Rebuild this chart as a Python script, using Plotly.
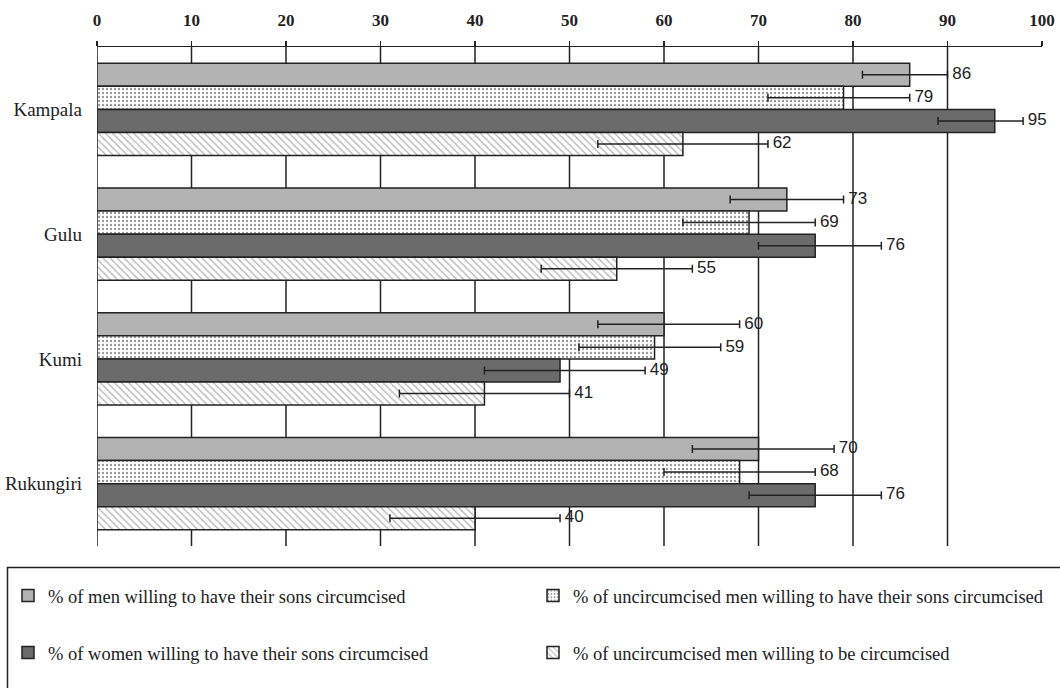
import plotly.graph_objects as go

categories = ["Kampala", "Gulu", "Kumi", "Rukungiri"]

men_sons = [86, 73, 60, 70]
men_sons_lo = [81, 67, 53, 63]
men_sons_hi = [90, 79, 68, 78]

uncirc_sons = [79, 69, 59, 68]
uncirc_sons_lo = [71, 62, 51, 60]
uncirc_sons_hi = [86, 76, 66, 76]

women_sons = [95, 76, 49, 76]
women_sons_lo = [89, 70, 41, 69]
women_sons_hi = [98, 83, 58, 83]

uncirc_self = [62, 55, 41, 40]
uncirc_self_lo = [53, 47, 32, 31]
uncirc_self_hi = [71, 63, 50, 49]

series_names = [
    "% of men willing to have their sons circumcised",
    "% of uncircumcised men willing to have their sons circumcised",
    "% of women willing to have their sons circumcised",
    "% of uncircumcised men willing to be circumcised",
]
x_ticks = [0, 10, 20, 30, 40, 50, 60, 70, 80, 90, 100]

W, H = 1060, 688
L, R, T, B = 97, 18, 47, 142
PW, PH = W - L - R, H - T - B


def xp(px):
    return (px - L) / PW


def yp(py):
    return (H - B - py) / PH


INK = "#222222"
outline = dict(color=INK, width=1.5)

styles = [
    dict(color="#b3b3b3", line=outline),
    dict(color="white", line=outline,
         pattern=dict(shape=".", fgcolor="#333333", bgcolor="white", size=4, solidity=0.28)),
    dict(color="#6b6b6b", line=outline),
    dict(color="white", line=outline,
         pattern=dict(shape="\\", fgcolor="#666666", bgcolor="white", size=5, solidity=0.25)),
]
data = [
    (men_sons, men_sons_lo, men_sons_hi),
    (uncirc_sons, uncirc_sons_lo, uncirc_sons_hi),
    (women_sons, women_sons_lo, women_sons_hi),
    (uncirc_self, uncirc_self_lo, uncirc_self_hi),
]
legend_ids = ["legend", "legend2", "legend3", "legend4"]
legend_pos = [(8, 596), (533, 596), (8, 653), (533, 653)]

fig = go.Figure()
for i, ((vals, lo, hi), st, name) in enumerate(zip(data, styles, series_names)):
    fig.add_trace(go.Bar(
        y=categories, x=vals, orientation="h", name=name, marker=st,
        legend=legend_ids[i],
        error_x=dict(type="data", symmetric=False,
                     array=[h - v for h, v in zip(hi, vals)],
                     arrayminus=[v - l for v, l in zip(vals, lo)],
                     color=INK, thickness=1.5, width=4),
        hoverinfo="skip",
    ))
for i, (vals, lo, hi) in enumerate(data):
    fig.add_trace(go.Scatter(
        y=categories, x=hi, orientation="h", mode="text",
        text=[" " + str(v) for v in vals], textposition="middle right",
        textfont=dict(family="Liberation Sans", size=17, color=INK),
        showlegend=False, hoverinfo="skip", cliponaxis=False,
    ))

shapes = [dict(type="line", xref="x", yref="paper", x0=v, x1=v, y0=0, y1=1,
               layer="below", line=dict(color=INK, width=1.5)) for v in x_ticks[:-1]]
shapes.append(dict(type="rect", xref="paper", yref="paper",
                   x0=xp(7.5), x1=xp(1066), y0=yp(567.5), y1=yp(700),
                   line=dict(color=INK, width=1.5), fillcolor="rgba(0,0,0,0)"))

legend_font = dict(family="Liberation Serif", size=18.5, color=INK)
layout_legends = {}
for lid, (lx, ly) in zip(legend_ids, legend_pos):
    layout_legends[lid] = dict(orientation="h", xref="container", yref="container",
                               x=lx / W, xanchor="left", y=1 - ly / H,
                               yanchor="middle", font=legend_font,
                               bgcolor="rgba(0,0,0,0)", borderwidth=0)

fig.update_layout(
    width=W, height=H,
    margin=dict(l=L, r=R, t=T, b=B, autoexpand=False),
    plot_bgcolor="white", paper_bgcolor="white",
    barmode="group", bargap=0.2625, bargroupgap=0,
    scattermode="group", scattergap=0.2625,
    shapes=shapes,
    xaxis=dict(side="top", range=[0, 100], tickvals=x_ticks, showgrid=False, zeroline=False,
               showline=True, linecolor=INK, linewidth=1.5, ticks="outside", ticklen=5,
               tickcolor=INK, tickwidth=1.5, ticklabelstandoff=8, automargin=False,
               tickfont=dict(family="Liberation Serif", size=17, color=INK, weight="bold"),
               fixedrange=True),
    yaxis=dict(type="category", autorange="reversed", showgrid=False, zeroline=False,
               showline=False, ticks="", ticklabelstandoff=14, automargin=False,
               tickfont=dict(family="Liberation Serif", size=19, color=INK), fixedrange=True),
    **layout_legends,
)

fig.write_html(
    "out.html",
    config={"displayModeBar": False, "staticPlot": True},
    post_script="document.body.style.margin='0';document.body.style.overflow='hidden';",
)
